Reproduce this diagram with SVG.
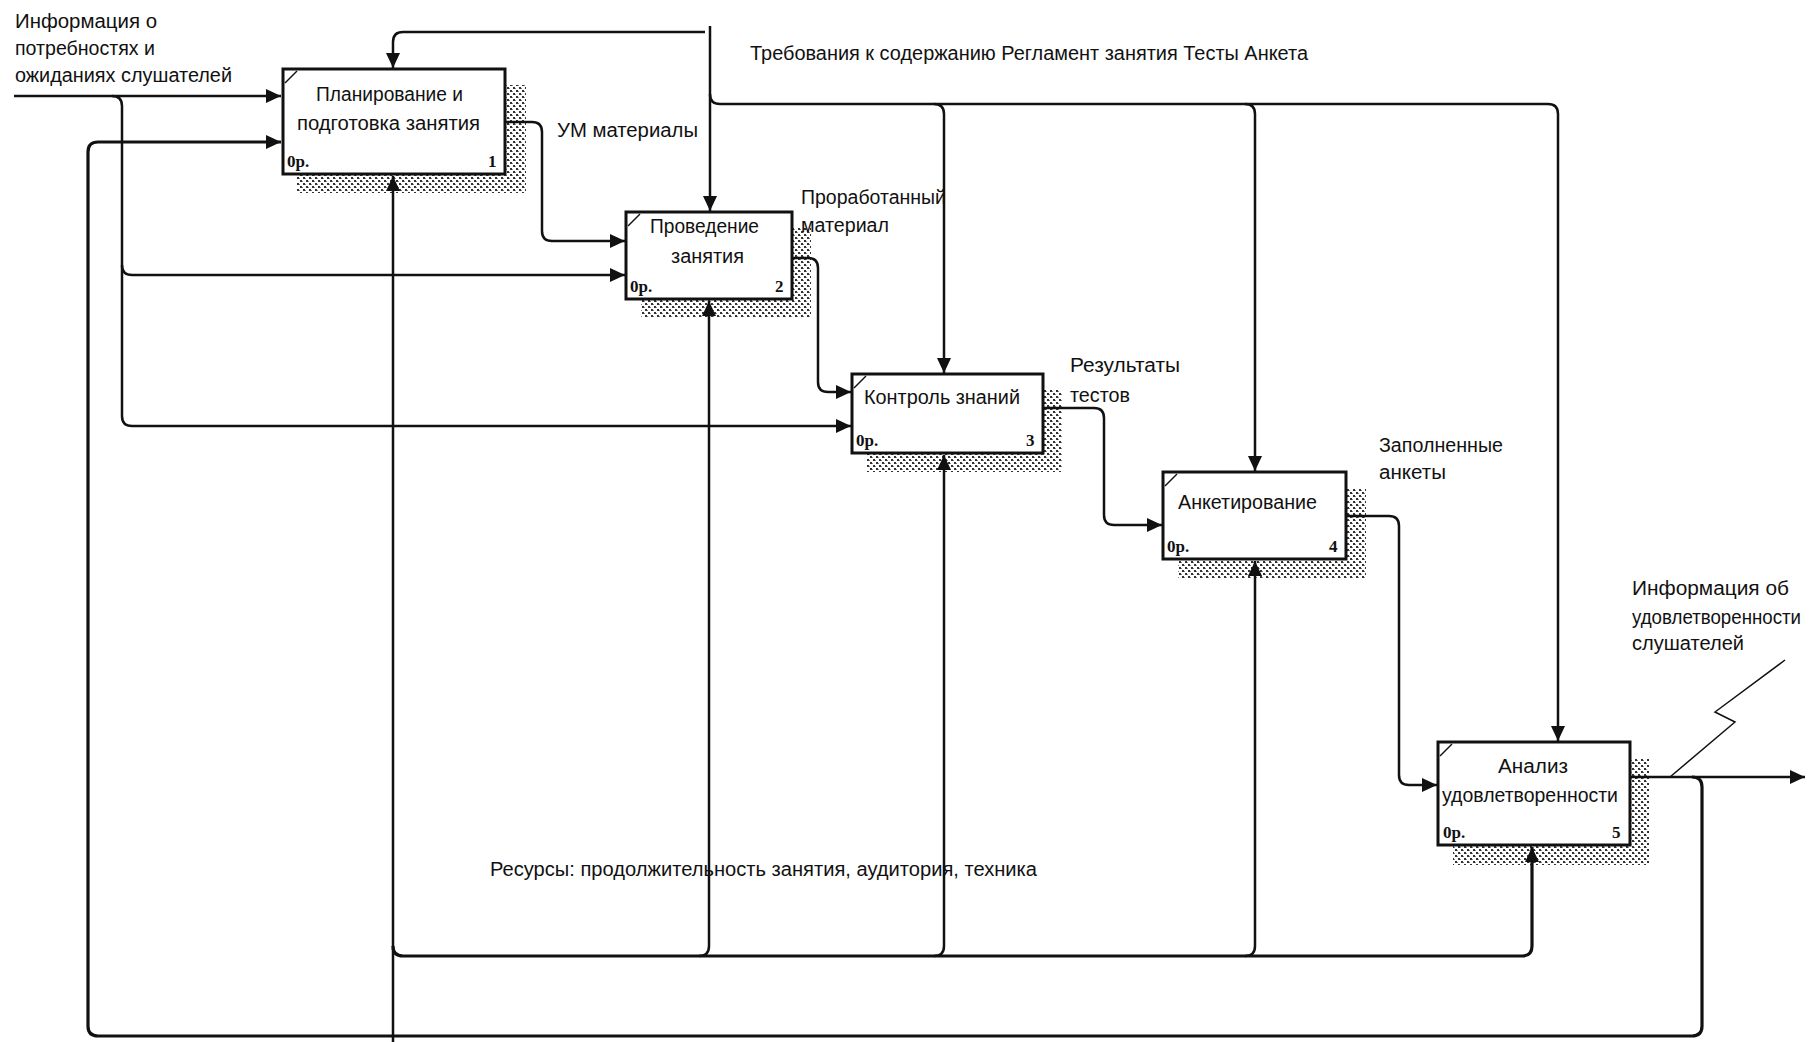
<svg xmlns="http://www.w3.org/2000/svg" width="1816" height="1042" viewBox="0 0 1816 1042">
<style>
.t{font-family:"Liberation Sans",Arial,sans-serif;font-size:20px;fill:#111}
.n{font-family:"Liberation Serif","Times New Roman",serif;font-size:17px;font-weight:bold;fill:#111}
.box{fill:#fff;stroke:#111;stroke-width:3}
.sh{fill:url(#hatch)}
.tick{stroke:#111;stroke-width:1.5;fill:none}
.c{fill:none;stroke:#111;stroke-width:2.5}
.ca{fill:none;stroke:#111;stroke-width:2.5;marker-end:url(#ar)}
.thick{stroke-width:3.2}
</style>
<defs>
<pattern id="hatch" width="6" height="6" patternUnits="userSpaceOnUse">
<rect width="6" height="6" fill="#fff"/>
<rect x="0" y="0" width="2" height="2" fill="#333"/>
<rect x="3" y="3" width="2" height="2" fill="#333"/>
<rect x="2" y="1" width="1" height="1" fill="#888"/>
<rect x="5" y="4" width="1" height="1" fill="#888"/>
</pattern>
<marker id="ar" markerUnits="userSpaceOnUse" markerWidth="16" markerHeight="14" refX="15" refY="7" orient="auto">
<path d="M0,0 L15,7 L0,14 Z" fill="#111"/>
</marker>
</defs>
<rect width="1816" height="1042" fill="#fff"/>

<g id="node1">
<rect class="sh" x="297" y="85" width="229" height="108"/>
<rect class="box" x="283" y="69" width="222" height="105"/>
<line class="tick" x1="285" y1="83" x2="297" y2="71"/>
<text class="t" x="316" y="101" textLength="147" lengthAdjust="spacingAndGlyphs">Планирование и</text>
<text class="t" x="297" y="130" textLength="183" lengthAdjust="spacingAndGlyphs">подготовка занятия</text>
<text class="n" x="287" y="167">0р.</text>
<text class="n" x="488" y="167">1</text>
</g>

<g id="node2">
<rect class="sh" x="641" y="228" width="170" height="90"/>
<rect class="box" x="626" y="212" width="166" height="87"/>
<line class="tick" x1="628" y1="226" x2="640" y2="214"/>
<text class="t" x="650" y="233" textLength="109" lengthAdjust="spacingAndGlyphs">Проведение</text>
<text class="t" x="671" y="263" textLength="73" lengthAdjust="spacingAndGlyphs">занятия</text>
<text class="n" x="630" y="292">0р.</text>
<text class="n" x="775" y="292">2</text>
</g>

<g id="node3">
<rect class="sh" x="867" y="390" width="195" height="82"/>
<rect class="box" x="852" y="374" width="191" height="79"/>
<line class="tick" x1="854" y1="388" x2="866" y2="376"/>
<text class="t" x="864" y="404" textLength="156" lengthAdjust="spacingAndGlyphs">Контроль знаний</text>
<text class="n" x="856" y="446">0р.</text>
<text class="n" x="1026" y="446">3</text>
</g>

<g id="node4">
<rect class="sh" x="1178" y="488" width="188" height="90"/>
<rect class="box" x="1163" y="472" width="183" height="87"/>
<line class="tick" x1="1165" y1="486" x2="1177" y2="474"/>
<text class="t" x="1178" y="509" textLength="139" lengthAdjust="spacingAndGlyphs">Анкетирование</text>
<text class="n" x="1167" y="552">0р.</text>
<text class="n" x="1329" y="552">4</text>
</g>

<g id="node5">
<rect class="sh" x="1453" y="758" width="196" height="107"/>
<rect class="box" x="1438" y="742" width="192" height="103"/>
<line class="tick" x1="1440" y1="756" x2="1452" y2="744"/>
<text class="t" x="1498" y="773" textLength="70" lengthAdjust="spacingAndGlyphs">Анализ</text>
<text class="t" x="1442" y="802" textLength="176" lengthAdjust="spacingAndGlyphs">удовлетворенности</text>
<text class="n" x="1443" y="838">0р.</text>
<text class="n" x="1612" y="838">5</text>
</g>

<g id="connectors">
<!-- input 1 -->
<path class="ca" d="M14,96 H281"/>
<path class="ca" d="M112,96 Q122,96 122,106 V416 Q122,426 132,426 H851"/>
<path class="ca" d="M122,265 Q122,275 132,275 H625"/>
<!-- UM materials -->
<path class="ca" d="M506,122 H532 Q542,122 542,132 V231 Q542,241 552,241 H625"/>
<!-- prorabotanny material -->
<path class="ca" d="M793,258 H808 Q818,258 818,268 V382 Q818,392 828,392 H851"/>
<!-- rezultaty testov -->
<path class="ca" d="M1044,408 H1094 Q1104,408 1104,418 V515 Q1104,525 1114,525 H1162"/>
<!-- zapolnennye ankety -->
<path class="ca" d="M1347,516 H1389 Q1399,516 1399,526 V775 Q1399,785 1409,785 H1437"/>
<!-- output box 5 -->
<path class="ca" d="M1631,777 H1805"/>
<!-- feedback loop -->
<path class="ca thick" d="M1692,777 Q1702,777 1702,787 V1026 Q1702,1036 1692,1036 H98 Q88,1036 88,1026 V152 Q88,142 98,142 H281"/>
<!-- mechanism -->
<path class="ca" d="M393,1042 V176"/>
<path class="ca thick" d="M393,946 Q393,956 403,956 H1522 Q1532,956 1532,946 V847"/>
<path class="ca" d="M699,956 Q709,956 709,946 V301"/>
<path class="ca" d="M934,956 Q944,956 944,946 V455"/>
<path class="ca" d="M1245,956 Q1255,956 1255,946 V561"/>
<!-- control -->
<path class="ca" d="M710,26 V211"/>
<path class="ca" d="M705,32 H403 Q393,32 393,42 V68"/>
<path class="ca" d="M710,94 Q710,104 720,104 H1548 Q1558,104 1558,114 V741"/>
<path class="ca" d="M934,104 Q944,104 944,114 V373"/>
<path class="ca" d="M1245,104 Q1255,104 1255,114 V471"/>
<!-- squiggle -->
<path class="tick" d="M1785,660 L1715,712 L1735,722 L1670,777"/>
</g>

<g id="labels">
<text class="t" x="15" y="28" textLength="142" lengthAdjust="spacingAndGlyphs">Информация о</text>
<text class="t" x="15" y="55" textLength="140" lengthAdjust="spacingAndGlyphs">потребностях и</text>
<text class="t" x="15" y="82" textLength="217" lengthAdjust="spacingAndGlyphs">ожиданиях слушателей</text>
<text class="t" x="750" y="60" textLength="558" lengthAdjust="spacingAndGlyphs">Требования к содержанию Регламент занятия Тесты Анкета</text>
<text class="t" x="557" y="137" textLength="141" lengthAdjust="spacingAndGlyphs">УМ материалы</text>
<text class="t" x="801" y="204" textLength="145" lengthAdjust="spacingAndGlyphs">Проработанный</text>
<text class="t" x="801" y="232" textLength="88" lengthAdjust="spacingAndGlyphs">материал</text>
<text class="t" x="1070" y="372" textLength="110" lengthAdjust="spacingAndGlyphs">Результаты</text>
<text class="t" x="1070" y="402" textLength="60" lengthAdjust="spacingAndGlyphs">тестов</text>
<text class="t" x="1379" y="452" textLength="124" lengthAdjust="spacingAndGlyphs">Заполненные</text>
<text class="t" x="1379" y="479" textLength="67" lengthAdjust="spacingAndGlyphs">анкеты</text>
<text class="t" x="1632" y="595" textLength="157" lengthAdjust="spacingAndGlyphs">Информация об</text>
<text class="t" x="1632" y="624" textLength="169" lengthAdjust="spacingAndGlyphs">удовлетворенности</text>
<text class="t" x="1632" y="650" textLength="112" lengthAdjust="spacingAndGlyphs">слушателей</text>
<text class="t" x="490" y="876" textLength="547" lengthAdjust="spacingAndGlyphs">Ресурсы: продолжительность занятия, аудитория, техника</text>
</g>
</svg>
